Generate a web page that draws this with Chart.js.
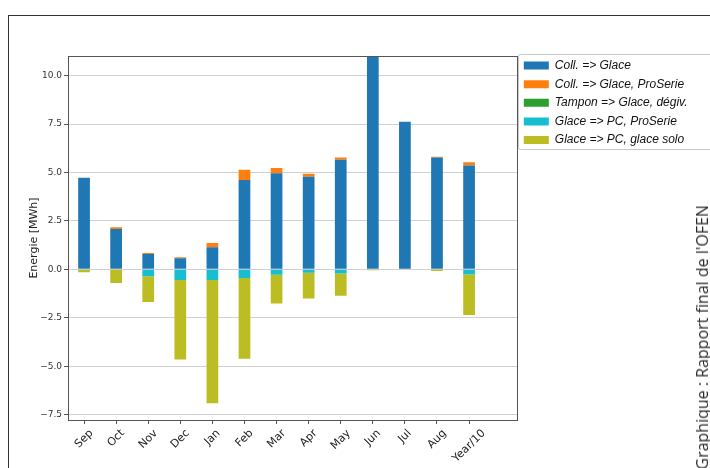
<!DOCTYPE html>
<html>
<head>
<meta charset="utf-8">
<script src="https://cdn.jsdelivr.net/npm/chart.js@4/dist/chart.umd.min.js"></script>
<style>
  html, body { margin: 0; padding: 0; background: #fff; width: 710px; height: 468px; overflow: hidden; }
  #frame { position: absolute; left: 8px; top: 15px; width: 720px; height: 470px;
           border-left: 1px solid #333; border-top: 1px solid #333; }
  #wrap { position: absolute; left: 0; top: 0; width: 710px; height: 468px; }
  #source { position: absolute; left: 693px; top: 205px; transform-origin: 0 0;
            transform: rotate(-90deg) translateX(-100%);
            font: 16px "Open Sans", sans-serif; color: #2a2a2a; white-space: nowrap; line-height: 18px; }
</style>
</head>
<body>
<div id="frame"></div>
<div id="wrap"><canvas id="c" width="710" height="468"></canvas></div>
<div id="source">Graphique : Rapport final de l'OFEN</div>
<script>
// Monthly energy balance of the ice storage (MWh), last column is the yearly total / 10
const MONTHS = ['Sep', 'Oct', 'Nov', 'Dec', 'Jan', 'Feb', 'Mar', 'Apr', 'May', 'Jun', 'Jul', 'Aug', 'Year/10'];

const COLL_GLACE          = [4.73, 2.08, 0.79, 0.57, 1.14, 4.61, 4.96, 4.78, 5.66, 11.2, 7.63, 5.78, 5.37];
const COLL_GLACE_PROSERIE = [0.00, 0.09, 0.06, 0.06, 0.22, 0.53, 0.27, 0.16, 0.12, 0.00, 0.00, 0.03, 0.16];
const TAMPON_GLACE_DEGIV  = [0, 0, 0, 0, 0, 0, 0, 0, 0, 0, 0, 0, 0];
const GLACE_PC_PROSERIE   = [0.00, 0.00, -0.35, -0.55, -0.55, -0.45, -0.28, -0.17, -0.21, 0.00, 0.00, 0.00, -0.26];
const GLACE_PC_SOLO       = [-0.15, -0.71, -1.34, -4.10, -6.37, -4.17, -1.48, -1.33, -1.15, -0.05, 0.00, -0.08, -2.10];

const SERIES_NAMES = ['Coll. => Glace', 'Coll. => Glace, ProSerie', 'Tampon => Glace, dégiv.',
                      'Glace => PC, ProSerie', 'Glace => PC, glace solo'];

const Y_TICKS = [-7.5, -5, -2.5, 0, 2.5, 5, 7.5, 10];
const Y_TICK_LABELS = ['\u22127.5', '\u22125.0', '\u22122.5', '0.0', '2.5', '5.0', '7.5', '10.0'];

const COLORS = ['#1f77b4', '#ff7f0e', '#2ca02c', '#17becf', '#bcbd22'];
const SERIES = [COLL_GLACE, COLL_GLACE_PROSERIE, TAMPON_GLACE_DEGIV, GLACE_PC_PROSERIE, GLACE_PC_SOLO];

const PLOT_RIGHT = 517;
const TICK_FONT = 11;

// frame around the axes, legend box and rotated month labels
const decor = {
  id: 'decor',
  afterLayout(chart) {
    chart.legend.top -= 3;
  },
  afterDraw(chart) {
    const { ctx, chartArea: a, scales: { x } } = chart;
    ctx.save();
    ctx.strokeStyle = '#555';
    ctx.lineWidth = 1;
    ctx.strokeRect(Math.round(a.left) + 0.5, Math.round(a.top) + 0.5,
                   Math.round(a.right - a.left), Math.round(a.bottom - a.top));

    const lg = chart.legend;
    ctx.strokeStyle = '#c8c8c8';
    ctx.beginPath();
    ctx.roundRect(Math.round(lg.left) + 1.5, Math.round(lg.top) + 1.5, 240, 95, 2);
    ctx.stroke();

    ctx.font = TICK_FONT + 'px "DejaVu Sans"';
    ctx.fillStyle = '#222';
    ctx.textAlign = 'center';
    ctx.textBaseline = 'middle';
    MONTHS.forEach((m, i) => {
      const px = x.getPixelForTick(i);
      const w = ctx.measureText(m).width;
      const side = (w + TICK_FONT * 1.17) * Math.SQRT1_2;
      const cy = a.bottom + 7 + side / 2;
      ctx.save();
      ctx.translate(px, cy);
      ctx.rotate(-Math.PI / 4);
      ctx.fillText(m, 0, 0);
      ctx.restore();
    });
    ctx.restore();
  }
};

const chart = new Chart(document.getElementById('c'), {
  type: 'bar',
  data: {
    labels: [...MONTHS, ''],
    datasets: SERIES.map((d, i) => ({
      label: SERIES_NAMES[i],
      data: d,
      backgroundColor: COLORS[i],
      borderWidth: 0,
      barPercentage: 0.365,
      categoryPercentage: 1
    }))
  },
  options: {
    responsive: false,
    animation: false,
    layout: { padding: { top: 56, right: 3, bottom: 0, left: 0 } },
    plugins: {
      legend: {
        position: 'right',
        align: 'start',
        labels: {
          boxWidth: 25, boxHeight: 8, padding: 6.6, color: '#111',
          font: { family: '"Liberation Sans", Arial, sans-serif', size: 12, style: 'italic' }
        }
      },
      tooltip: { enabled: false }
    },
    scales: {
      x: {
        stacked: true,
        grid: {
          display: true, drawOnChartArea: false, drawTicks: true, tickLength: 4, offset: false,
          tickColor: c => (c.index < MONTHS.length ? '#555' : 'rgba(0,0,0,0)')
        },
        border: { color: '#555' },
        ticks: { display: false },
        afterFit: s => { s.height = 48; }
      },
      y: {
        stacked: true,
        min: -7.78,
        max: 11.02,
        afterBuildTicks: s => { s.ticks = Y_TICKS.map(v => ({ value: v })); },
        ticks: {
          callback: (v, i) => Y_TICK_LABELS[i],
          font: { family: '"DejaVu Sans"', size: 9 },
          color: '#333',
          padding: 2
        },
        grid: { color: '#d0d0d0', tickColor: '#555', tickLength: 4 },
        border: { color: '#555' },
        title: {
          display: true, text: 'Energie [MWh]', color: '#222',
          font: { family: '"DejaVu Sans"', size: 11 },
          padding: { top: 28, bottom: 0 }
        },
        afterFit: s => { s.width = 68; }
      }
    }
  },
  plugins: [decor]
});

// keep the plot area's right edge against the legend
for (let k = 0; k < 3; k++) {
  const dx = chart.chartArea.right - PLOT_RIGHT;
  if (Math.abs(dx) < 0.5) break;
  chart.config.options.layout.padding.right += dx;
  chart.update();
}
</script>
</body>
</html>
